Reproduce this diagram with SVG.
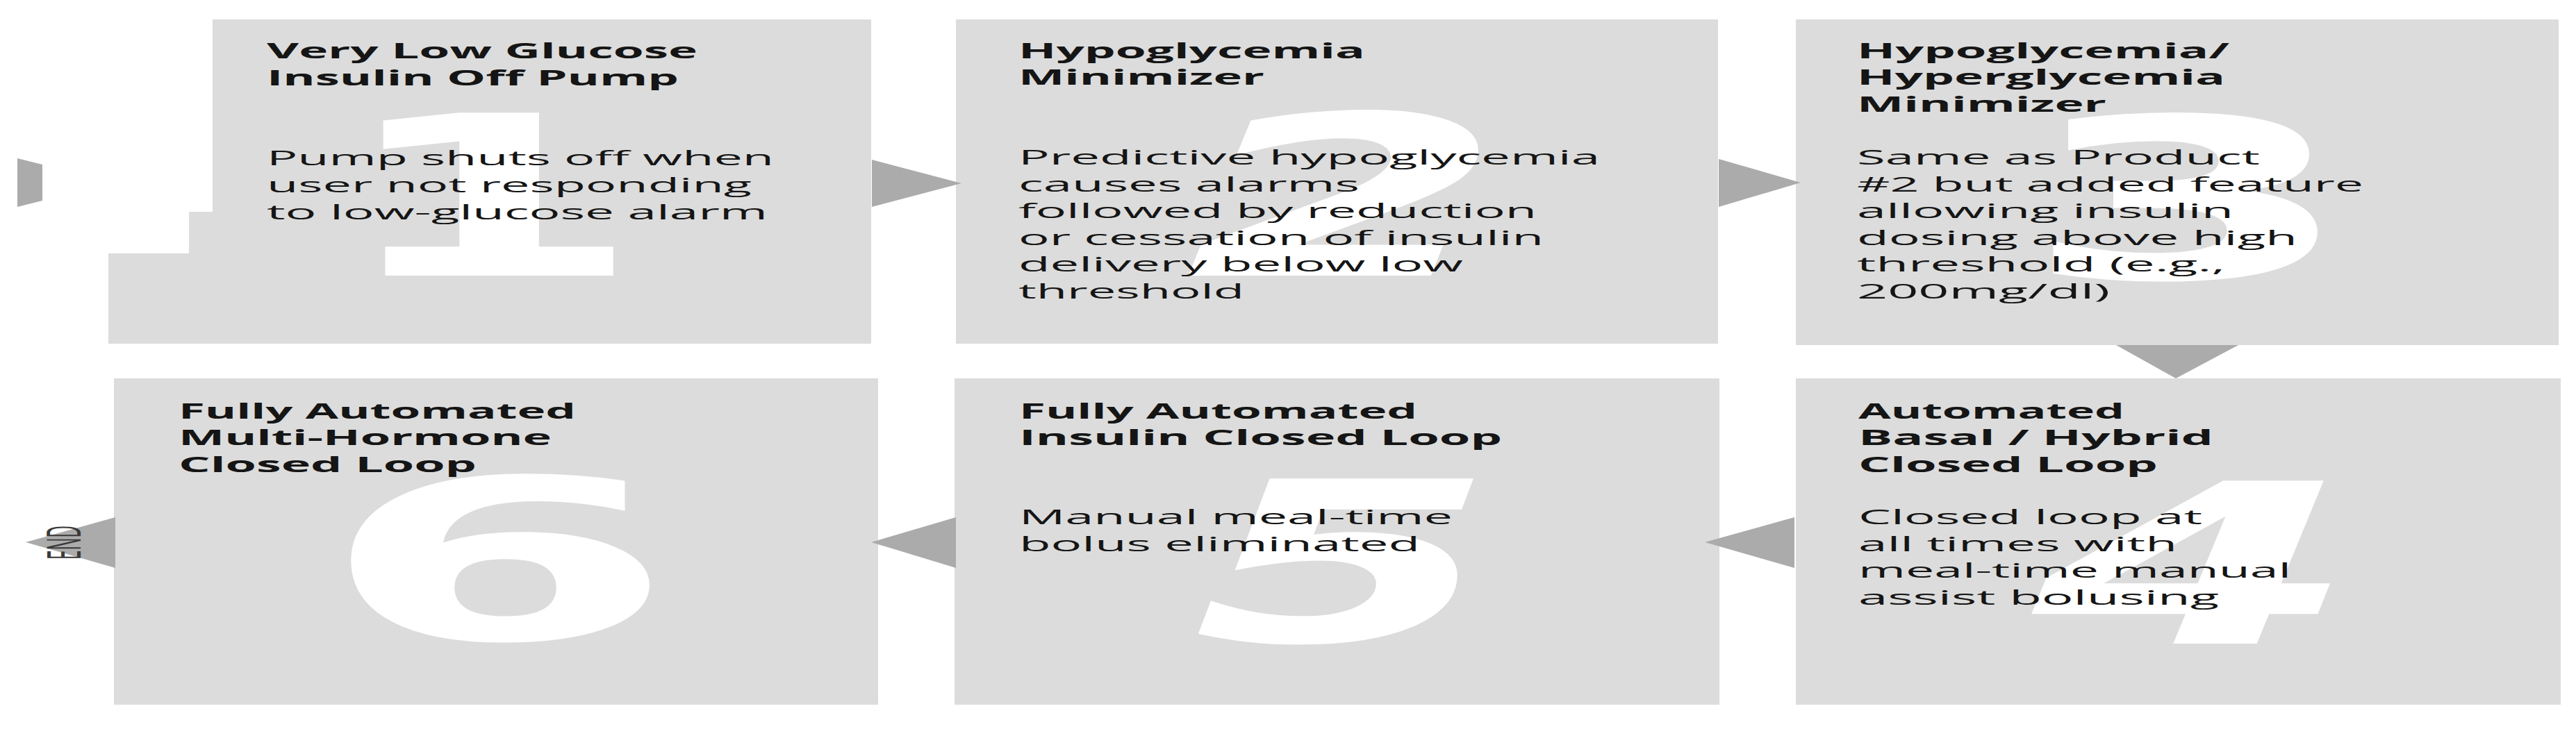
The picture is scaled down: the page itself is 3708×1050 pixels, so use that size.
<svg xmlns="http://www.w3.org/2000/svg" width="3708" height="1050" viewBox="0 0 3708 1050">
<style>
.box{fill:#dcdcdc}
.arr{fill:#ababab}
.num{font-family:"DejaVu Sans",sans-serif;font-weight:bold;font-size:322px;fill:#ffffff;text-anchor:middle}
.obl{font-style:italic}
.t{font-family:"Open Sans","Noto Sans",sans-serif;font-weight:bold;font-size:31px;fill:#151515}
.b{font-family:"Open Sans","Noto Sans",sans-serif;font-size:30px;fill:#151515}
.end{font-family:"Open Sans","Noto Sans",sans-serif;font-size:27px;fill:#3a3a3a}
</style>
<rect width="3708" height="1050" fill="#ffffff"/>
<g id="node1">
<polygon class="box" points="306,28 1254,28 1254,495 156,495 156,365 272,365 272,305 306,305"/>
<text class="num" transform="translate(703,397) scale(2.0,1)">1</text>
<text class="t" x="384" y="84" textLength="620" lengthAdjust="spacingAndGlyphs">Very Low Glucose</text>
<text class="t" x="384" y="122.5" textLength="593" lengthAdjust="spacingAndGlyphs">Insulin Off Pump</text>
<text class="b" x="384" y="238" textLength="730" lengthAdjust="spacingAndGlyphs">Pump shuts off when</text>
<text class="b" x="384" y="277" textLength="698" lengthAdjust="spacingAndGlyphs">user not responding</text>
<text class="b" x="384" y="316" textLength="721" lengthAdjust="spacingAndGlyphs">to low-glucose alarm</text>
</g>
<g id="node2">
<rect class="box" x="1376" y="28" width="1097" height="467"/>
<text class="num obl" transform="translate(1935,397) scale(2.05,1)">2</text>
<text class="t" x="1466" y="83.5" textLength="499" lengthAdjust="spacingAndGlyphs">Hypoglycemia</text>
<text class="t" x="1466" y="122" textLength="354" lengthAdjust="spacingAndGlyphs">Minimizer</text>
<text class="b" x="1466" y="237" textLength="837" lengthAdjust="spacingAndGlyphs">Predictive hypoglycemia</text>
<text class="b" x="1466" y="275.5" textLength="491" lengthAdjust="spacingAndGlyphs">causes alarms</text>
<text class="b" x="1466" y="314" textLength="746" lengthAdjust="spacingAndGlyphs">followed by reduction</text>
<text class="b" x="1466" y="352.5" textLength="756" lengthAdjust="spacingAndGlyphs">or cessation of insulin</text>
<text class="b" x="1466" y="391" textLength="640" lengthAdjust="spacingAndGlyphs">delivery below low</text>
<text class="b" x="1466" y="429.5" textLength="325" lengthAdjust="spacingAndGlyphs">threshold</text>
</g>
<g id="node3">
<rect class="box" x="2585" y="28" width="1098" height="469"/>
<text class="num" transform="translate(3150,401) scale(2.15,1)">3</text>
<text class="t" x="2673" y="83.5" textLength="536" lengthAdjust="spacingAndGlyphs">Hypoglycemia/</text>
<text class="t" x="2673" y="122" textLength="530" lengthAdjust="spacingAndGlyphs">Hyperglycemia</text>
<text class="t" x="2673" y="160.5" textLength="359" lengthAdjust="spacingAndGlyphs">Minimizer</text>
<text class="b" x="2673" y="237" textLength="580" lengthAdjust="spacingAndGlyphs">Same as Product</text>
<text class="b" x="2673" y="275.5" textLength="729" lengthAdjust="spacingAndGlyphs">#2 but added feature</text>
<text class="b" x="2673" y="314" textLength="542" lengthAdjust="spacingAndGlyphs">allowing insulin</text>
<text class="b" x="2673" y="352.5" textLength="634" lengthAdjust="spacingAndGlyphs">dosing above high</text>
<text class="b" x="2673" y="391" textLength="530" lengthAdjust="spacingAndGlyphs">threshold (e.g.,</text>
<text class="b" x="2673" y="429.5" textLength="364" lengthAdjust="spacingAndGlyphs">200mg/dl)</text>
</g>
<g id="node4">
<rect class="box" x="2585" y="545" width="1101" height="470"/>
<text class="num obl" transform="translate(3160,927) scale(2.1,1)">4</text>
<text class="t" x="2675" y="602.5" textLength="383" lengthAdjust="spacingAndGlyphs">Automated</text>
<text class="t" x="2675" y="641" textLength="511" lengthAdjust="spacingAndGlyphs">Basal / Hybrid</text>
<text class="t" x="2675" y="679.5" textLength="431" lengthAdjust="spacingAndGlyphs">Closed Loop</text>
<text class="b" x="2675" y="755" textLength="495" lengthAdjust="spacingAndGlyphs">Closed loop at</text>
<text class="b" x="2675" y="793.5" textLength="459" lengthAdjust="spacingAndGlyphs">all times with</text>
<text class="b" x="2675" y="832" textLength="623" lengthAdjust="spacingAndGlyphs">meal-time manual</text>
<text class="b" x="2675" y="870.5" textLength="519" lengthAdjust="spacingAndGlyphs">assist bolusing</text>
</g>
<g id="node5">
<rect class="box" x="1374" y="545" width="1101" height="470"/>
<text class="num obl" transform="translate(1935,924) scale(1.95,1)">5</text>
<text class="t" x="1467" y="602.5" textLength="573" lengthAdjust="spacingAndGlyphs">Fully Automated</text>
<text class="t" x="1467" y="641" textLength="695" lengthAdjust="spacingAndGlyphs">Insulin Closed Loop</text>
<text class="b" x="1467" y="755" textLength="624" lengthAdjust="spacingAndGlyphs">Manual meal-time</text>
<text class="b" x="1467" y="793.5" textLength="577" lengthAdjust="spacingAndGlyphs">bolus eliminated</text>
</g>
<g id="node6">
<rect class="box" x="164" y="545" width="1100" height="470"/>
<text class="num" transform="translate(717,921) scale(2.3,1)">6</text>
<text class="t" x="257" y="602.5" textLength="572" lengthAdjust="spacingAndGlyphs">Fully Automated</text>
<text class="t" x="257" y="641" textLength="537" lengthAdjust="spacingAndGlyphs">Multi-Hormone</text>
<text class="t" x="257" y="679.5" textLength="429" lengthAdjust="spacingAndGlyphs">Closed Loop</text>
</g>
<g id="connectors">
<polygon class="arr" points="25,228 61,237 61,289 25,298"/>
<polygon class="arr" points="1255,230 1384,264 1255,298"/>
<polygon class="arr" points="2474,229 2592,263 2474,298"/>
<polygon class="arr" points="3046,497 3222,497 3132,545"/>
<polygon class="arr" points="2583,745 2454,781 2583,818"/>
<polygon class="arr" points="1376,745 1254,781 1376,818"/>
<polygon class="arr" points="166,745 37,781 166,818"/>
<text class="end" transform="translate(116,806) scale(2.5,1) rotate(-90)" textLength="49" lengthAdjust="spacingAndGlyphs">END</text>
</g>
</svg>
